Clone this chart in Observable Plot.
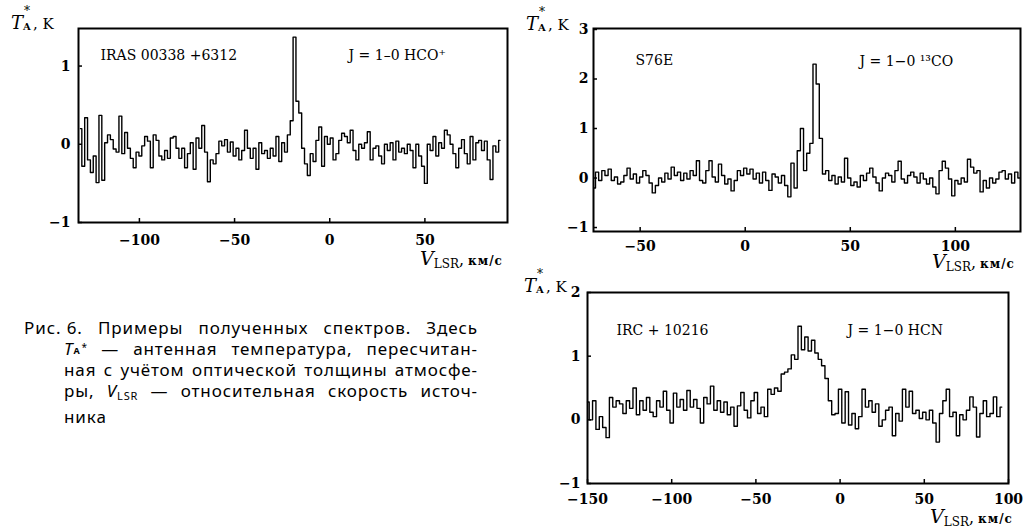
<!DOCTYPE html>
<html>
<head>
<meta charset="utf-8">
<script src="https://cdn.jsdelivr.net/npm/d3@7"></script>
<script src="https://cdn.jsdelivr.net/npm/@observablehq/plot@0.6"></script>
<style>
  body { margin: 0; background: #fff; }
  #root { position: relative; width: 1030px; height: 532px; overflow: hidden; background: #fff; color: #000; font-family: "DejaVu Serif", serif; }
  .panel { position: absolute; }
  .panel svg { overflow: visible; }
  .ttl { position: absolute; white-space: nowrap; font-family: "DejaVu Serif", serif; font-size: 15px; line-height: 18px; }
  .ttl i { font-size: 18px; }
  .ss { display: inline-block; position: relative; width: 10px; height: 10px; }
  .ss .sup { position: absolute; left: 1px; top: -13px; font-size: 12px; line-height: 10px; }
  .ss .sub { position: absolute; left: 0; top: 3px; font-size: 10px; line-height: 10px; font-weight: bold; }
  .vl { position: absolute; white-space: nowrap; font-family: "DejaVu Serif", serif; line-height: 20px; }
  .vl i { font-size: 19px; }
  .vl sub { font-size: 12px; vertical-align: -3px; }
  .vl .u { font-size: 12px; font-weight: bold; letter-spacing: 1px; margin-left: 4px; }
  #cap { position: absolute; left: 24px; top: 317px; width: 454px; font-family: "Noto Sans", sans-serif; font-size: 17px; letter-spacing: 0.9px; line-height: 21px; }
  #cap div { text-align: justify; text-align-last: justify; white-space: nowrap; }
  #cap div.ind { margin-left: 40px; }
  #cap div.last { text-align-last: left; }
  #cap .nb { display: inline-block; }
  #cap .cs { display: inline-block; position: relative; width: 14px; height: 10px; }
  #cap .cs .sup { position: absolute; left: 8px; top: -2px; font-size: 10px; line-height: 8px; letter-spacing: 0; }
  #cap .cs .sub { position: absolute; left: 0; top: 1px; font-size: 9px; line-height: 10px; font-weight: bold; letter-spacing: 0; }
  #cap sub { font-size: 11px; vertical-align: -3px; }
</style>
</head>
<body>
<div id="root">
  <div class="panel" id="p1" style="left:0;top:0"></div>
  <div class="panel" id="p2" style="left:520px;top:0"></div>
  <div class="panel" id="p3" style="left:520px;top:270px"></div>

  <div class="ttl" style="left:11px;top:14px"><i>T</i><span class="ss"><span class="sup">*</span><span class="sub">A</span></span>, K</div>
  <div class="ttl" style="left:526px;top:15px"><i>T</i><span class="ss"><span class="sup">*</span><span class="sub">A</span></span>, K</div>
  <div class="ttl" style="left:524px;top:277px"><i>T</i><span class="ss"><span class="sup">*</span><span class="sub">A</span></span>, K</div>

  <div class="vl" style="left:420px;top:248px"><i>V</i><sub>LSR</sub>,<span class="u">км/с</span></div>
  <div class="vl" style="left:932px;top:251px"><i>V</i><sub>LSR</sub>,<span class="u">км/с</span></div>
  <div class="vl" style="left:930px;top:506px"><i>V</i><sub>LSR</sub>,<span class="u">км/с</span></div>

  <div id="cap">
    <div><span class="nb">Рис. 6.</span> Примеры полученных спектров. Здесь</div>
    <div class="ind"><span class="nb"><i>T</i><span class="cs"><span class="sup">*</span><span class="sub">A</span></span></span> — антенная температура, пересчитан-</div>
    <div class="ind">ная с учётом оптической толщины атмосфе-</div>
    <div class="ind">ры, <span class="nb"><i>V</i><sub>LSR</sub></span> — относительная скорость источ-</div>
    <div class="ind last">ника</div>
  </div>
</div>
<script>
// ---- Panel 1: IRAS 00338+6312, HCO+ ----
const hcoSource = "IRAS 00338 +6312";
const hcoLine = "J = 1–0 HCO⁺";
const hcoV0 = -131, hcoDV = 1.5;
const hcoT = [
  0.2, -0.28, 0.34, -0.2, -0.36, -0.15, -0.49, 0.37, -0.46, 0.02,
  0.12, 0.06, -0.06, -0.1, 0.36, -0.12, 0.15, -0.05, -0.18, -0.3,
  -0.1, -0.15, -0.02, 0.1, 0.04, -0.3, 0.12, 0.05, -0.15, -0.2,
  -0.08, -0.18, 0.08, 0.1, -0.05, -0.18, -0.05, -0.3, -0.12, 0.02,
  -0.32, 0.08, -0.05, 0.24, -0.1, -0.48, -0.2, -0.25, -0.12, 0.04,
  -0.02, 0.06, -0.1, 0.03, -0.15, -0.05, -0.2, -0.08, 0.18, -0.05,
  -0.18, -0.05, -0.32, 0.02, -0.12, -0.08, -0.18, -0.05, -0.15, 0.1,
  -0.22, 0.02, -0.1, 0.12, 0.3, 1.37, 0.55, 0.4, -0.05, -0.25,
  -0.4, -0.12, -0.22, 0.05, 0.22, -0.28, 0.1, 0.0, 0.08, -0.2,
  -0.12, 0.05, 0.14, 0.1, 0.02, 0.18, -0.08, -0.2, 0.0, -0.05,
  0.02, 0.16, -0.2, -0.05, -0.02, -0.15, -0.25, 0.0, -0.08, 0.02,
  -0.2, 0.04, -0.1, -0.05, -0.12, 0.0, -0.08, -0.3, 0.0, -0.15,
  -0.28, -0.5, 0.0, -0.08, 0.1, -0.15, 0.02, -0.05, 0.18, 0.12,
  0.0, -0.12, -0.3, -0.05, 0.06, -0.12, -0.25, 0.1, -0.2, 0.02,
  0.05, -0.08, 0.04, -0.2, -0.45, -0.02, -0.1, 0.05
];
const hcoXTicks = [-100, -50, 0, 50];
const hcoYTicks = [-1, 0, 1];

// ---- Panel 2: S76E, 13CO ----
const coSource = "S76E";
const coLine = "J = 1−0 ¹³CO";
const coV0 = -72, coDV = 1.5;
const coT = [
  -0.2, 0.12, -0.05, 0.15, 0.05, 0.18, -0.05, 0.02, -0.12, -0.08,
  0.05, 0.2, -0.02, 0.08, -0.1, 0.02, 0.15, 0.05, -0.1, -0.3,
  -0.15, 0.0, -0.08, 0.1, -0.02, 0.22, 0.05, 0.12, -0.05, 0.1,
  -0.02, 0.15, 0.05, 0.35, -0.05, -0.1, 0.15, 0.35, 0.02, -0.08,
  0.28, 0.05, -0.12, -0.02, -0.26, -0.05, 0.15, 0.05, 0.2, 0.08,
  0.18, -0.02, 0.1, -0.1, 0.12, -0.05, -0.25, 0.08, 0.02, -0.1,
  0.05, -0.15, -0.38, 0.3, -0.2, 0.55, 1.0, 0.15, 0.5, 0.7,
  2.3, 1.9, 0.8, 0.08, 0.15, -0.05, 0.05, -0.12, 0.02, -0.08,
  0.4, 0.0, -0.15, -0.08, -0.18, 0.05, -0.05, 0.1, 0.2, 0.02,
  -0.1, -0.26, 0.0, 0.1, 0.05, -0.08, 0.15, 0.34, -0.02, -0.1,
  0.05, 0.12, 0.02, -0.1, 0.1, -0.02, -0.12, 0.0, -0.18, -0.32,
  0.15, 0.34, 0.2, -0.02, -0.36, -0.05, -0.12, 0.0, -0.08, 0.38,
  0.22, 0.1, 0.15, -0.28, -0.05, -0.2, 0.0, -0.1, -0.02, 0.12,
  0.15, -0.02, 0.08, -0.1, 0.12, 0.0
];
const coXTicks = [-50, 0, 50, 100];
const coYTicks = [-1, 0, 1, 2, 3];

// ---- Panel 3: IRC+10216, HCN ----
const hcnSource = "IRC + 10216";
const hcnLine = "J = 1−0 HCN";
const hcnV0 = -150, hcnDV = 2;
const hcnT = [
  0.28, 0.0, 0.3, -0.15, 0.05, -0.12, -0.28, 0.35, 0.2, 0.3,
  0.25, 0.1, 0.3, 0.18, 0.5, 0.08, 0.3, 0.15, 0.35, 0.12,
  0.05, 0.3, 0.2, 0.45, 0.15, -0.05, 0.42, 0.2, 0.32, 0.15,
  0.46, 0.2, 0.32, 0.18, -0.05, 0.35, 0.25, 0.53, 0.15, 0.3,
  0.12, 0.28, 0.08, 0.2, -0.1, 0.22, 0.43, 0.15, 0.03, 0.3,
  0.43, 0.1, 0.2, 0.05, 0.48, 0.4, 0.5, 0.45, 0.72, 0.75,
  0.8, 1.02, 0.95, 1.47, 1.1, 1.3, 1.08, 1.25, 1.05, 0.95,
  0.85, 0.65, 0.3, 0.08, 0.1, 0.48, -0.05, 0.44, -0.08, 0.1,
  -0.14, 0.05, 0.48, 0.2, 0.3, 0.12, 0.25, -0.1, 0.0, 0.15,
  0.2, -0.25, 0.1, -0.02, 0.48, 0.2, 0.45, 0.1, 0.15, 0.02,
  0.12, 0.0, 0.15, -0.05, -0.35, 0.1, 0.3, 0.48, 0.05, 0.12,
  -0.25, 0.08, 0.0, 0.15, 0.36, 0.2, -0.27, 0.1, 0.3, 0.05,
  0.1, 0.36, 0.05, 0.2
];
const hcnXTicks = [-150, -100, -50, 0, 50, 100];
const hcnYTicks = [-1, 0, 1, 2];

function channels(v0, dv, temps) {
  return temps.map((t, i) => ({v: v0 + i * dv, t}));
}

const fmt = d => (d < 0 ? "−" + Math.abs(d) : String(d));

function spectrumPanel(o) {
  return Plot.plot({
    width: o.width, height: o.height,
    marginLeft: o.ml, marginRight: o.mr, marginTop: o.mt, marginBottom: o.mb,
    x: {domain: o.xDomain},
    y: {domain: o.yDomain},
    style: {fontFamily: "DejaVu Serif, serif", fontSize: "14px", color: "#000", background: "transparent"},
    marks: [
      Plot.line(o.data, {x: "v", y: "t", curve: "step", stroke: "#000", strokeWidth: 1.4}),
      Plot.frame({stroke: "#000", strokeWidth: 2}),
      Plot.axisX(o.xTicks, {tickSize: -4, tickPadding: o.xPad, tickFormat: fmt, fontWeight: "bold", label: null, stroke: "#000", strokeWidth: 1.5}),
      Plot.axisY(o.yTicks, {tickSize: -4, tickPadding: o.yPad, tickFormat: fmt, fontWeight: "bold", label: null, stroke: "#000", strokeWidth: 1.5}),
      Plot.text([o.source], {text: d => d, frameAnchor: "top-left", textAnchor: "start", lineAnchor: "middle", dx: o.sx, dy: o.sy, fontSize: 14}),
      Plot.text([o.line], {text: d => d, frameAnchor: "top-left", textAnchor: "start", lineAnchor: "middle", dx: o.lx, dy: o.ly, fontSize: 14})
    ]
  });
}

document.getElementById("p1").append(spectrumPanel({
  width: 520, height: 260, ml: 78, mr: 13, mt: 28, mb: 38,
  xDomain: [-132, 93.4], yDomain: [-1, 1.48],
  data: channels(hcoV0, hcoDV, hcoT), xTicks: hcoXTicks, yTicks: hcoYTicks,
  xPad: 17, yPad: 12,
  source: hcoSource, line: hcoLine, sx: 22, sy: 27, lx: 270, ly: 27
}));

document.getElementById("p2").append(spectrumPanel({
  width: 510, height: 260, ml: 73, mr: 10, mt: 28, mb: 29,
  xDomain: [-72.2, 131], yDomain: [-1.08, 3.02],
  data: channels(coV0, coDV, coT), xTicks: coXTicks, yTicks: coYTicks,
  xPad: 14, yPad: 9,
  source: coSource, line: coLine, sx: 42, sy: 32, lx: 266, ly: 33
}));

document.getElementById("p3").append(spectrumPanel({
  width: 510, height: 262, ml: 67, mr: 22, mt: 22, mb: 49,
  xDomain: [-150, 100], yDomain: [-1, 2],
  data: channels(hcnV0, hcnDV, hcnT), xTicks: hcnXTicks, yTicks: hcnYTicks,
  xPad: 15, yPad: 11,
  source: hcnSource, line: hcnLine, sx: 29, sy: 38, lx: 260, ly: 38
}));
</script>
</body>
</html>
